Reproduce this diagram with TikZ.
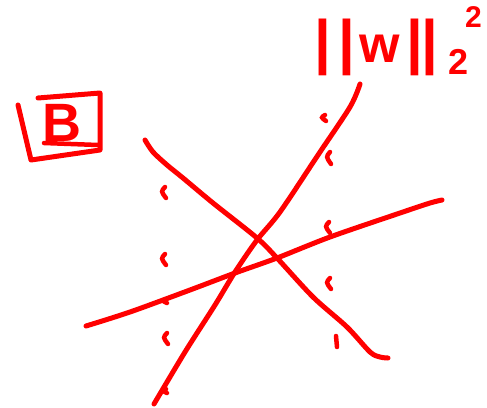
\documentclass[tikz,border=0pt]{standalone}
\usepackage{fontspec}
\setmainfont{Liberation Sans}
\begin{document}
\begin{tikzpicture}[x=1pt,y=-1pt,
  pen/.style={draw=red,line width=5pt,line cap=round,line join=round},
  tick/.style={draw=red,line width=4.5pt,line cap=round},
  hand/.style={text=red,inner sep=0pt}]
\useasboundingbox (0,0) rectangle (487,407);
% norm label
\node[hand,anchor=base west,font=\fontsize{60}{60}\selectfont\bfseries] (norm) at (314,62) {|\kern8pt|\kern4pt{\fontsize{52}{52}\selectfont w}\kern6pt|\kern-2pt|};
\node[hand,anchor=base west,font=\fontsize{36}{36}\selectfont\bfseries] (normsub) at (448,74) {2};
\node[hand,anchor=base west,font=\fontsize{30}{30}\selectfont\bfseries] (normsup) at (465,27) {2};
% boxed B
\node[hand,font=\fontsize{54}{54}\selectfont\bfseries] (b) at (62,123) {B};
\draw[pen,line width=5pt] (18,105) -- (31,160) -- (100,150) -- (100,93) -- (38,98);
\draw[pen,line width=4.5pt] (44,143) -- (98,145);
% three lines
\draw[pen] plot[smooth] coordinates {(154,404) (185,352) (215,305) (235,272) (257,240) (280,212) (318,155) (350,107) (360,84)};
\draw[pen] plot[smooth] coordinates {(86,326) (130,312) (190,290) (235,273) (277,258) (330,237) (400,213) (430,203) (442,200)};
\draw[pen] plot[smooth] coordinates {(145,140) (153,152) (167,165) (183,178) (213,203) (257,238) (277,258) (313,297) (347,327) (370,352) (380,357) (388,358)};
% ticks
\foreach \x/\y/\h in {162/187/11, 162/254/11, 163/299/4, 164/333/11, 322/115/6, 327/152/12, 326/222/11, 327/278/11, 163/389/4}{
  \draw[tick] (\x+3,\y) .. controls (\x-1,\y+0.4*\h) .. (\x+4,\y+\h);
}
\draw[tick] (336,336) -- (337,347);
\end{tikzpicture}
\end{document}
